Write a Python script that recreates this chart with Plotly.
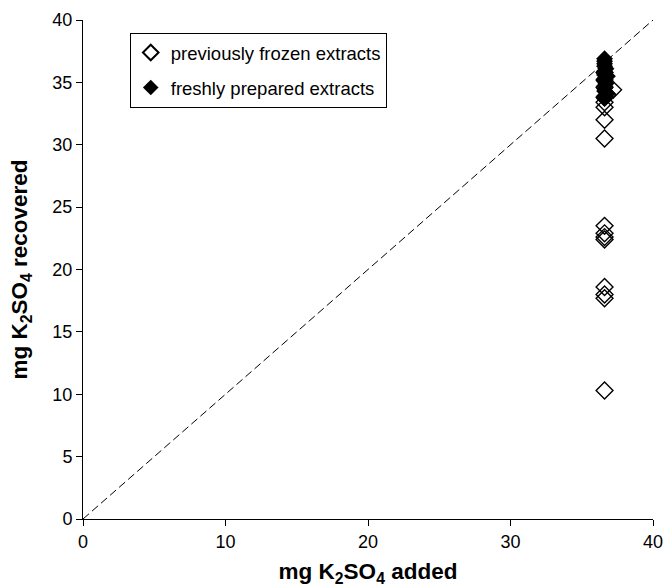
import plotly.graph_objects as go

frozen_x = [36.6, 36.6, 36.6, 36.6, 36.6, 36.6, 36.6, 36.6, 36.6, 36.6, 36.6, 36.6, 36.6, 37.2, 36.6, 36.6, 36.8, 36.6]
frozen_y = [10.3, 17.7, 18.0, 18.6, 22.4, 22.6, 22.9, 23.5, 30.5, 32.0, 33.0, 33.4, 33.8, 34.4, 34.6, 35.2, 34.0, 35.8]

fresh_x = [36.6, 36.6, 36.6, 36.6, 36.7, 36.6, 36.6, 36.8, 36.6, 36.6, 36.7, 36.6, 36.6, 36.6, 36.8, 36.6, 36.6, 36.6]
fresh_y = [36.9, 36.7, 36.5, 36.3, 36.1, 35.9, 35.7, 35.5, 35.3, 35.1, 34.9, 34.7, 34.5, 34.3, 34.1, 33.9, 33.7, 35.6]

line_x = [0, 40]
line_y = [0, 40]

fig = go.Figure()
fig.add_trace(go.Scatter(x=line_x, y=line_y, mode="lines",
                         line=dict(color="black", width=1, dash="8px,4px"),
                         showlegend=False, hoverinfo="skip"))
fig.add_trace(go.Scatter(x=frozen_x, y=frozen_y, mode="markers", name="previously frozen extracts",
                         legendgroup="a",
                         marker=dict(symbol="diamond-open", size=13, color="black", line=dict(width=1.4, color="black"))))
fig.add_trace(go.Scatter(x=fresh_x, y=fresh_y, mode="markers", name="freshly prepared extracts",
                         legendgroup="b",
                         marker=dict(symbol="diamond", size=13, color="black", line=dict(width=0))))

font = "Liberation Sans, Arial, sans-serif"
fig.update_layout(
    width=663, height=587,
    margin=dict(l=83, r=10, t=20, b=68),
    plot_bgcolor="white", paper_bgcolor="white",
    font=dict(family=font, size=18, color="black"),
    legend=dict(x=0.082, y=0.974, xanchor="left", yanchor="top",
                bordercolor="black", borderwidth=1, bgcolor="white",
                font=dict(size=18.5, family=font), itemsizing="constant",
                traceorder="grouped", tracegroupgap=8),
    xaxis=dict(range=[0, 40], tickvals=[0, 10, 20, 30, 40], showgrid=False, zeroline=False,
               showline=True, linecolor="black", linewidth=1, ticks="outside", ticklen=6,
               tickcolor="black", tickfont=dict(size=18), automargin=False, ticklabeloverflow="allow",
               title=dict(text="<b>mg K<sub>2</sub>SO<sub>4</sub> added</b>", font=dict(size=22.5), standoff=12)),
    yaxis=dict(range=[0, 40], tickvals=list(range(0, 41, 5)), showgrid=False, zeroline=False,
               showline=True, linecolor="black", linewidth=1, ticks="outside", ticklen=6,
               tickcolor="black", tickfont=dict(size=18), automargin=False, ticklabeloverflow="allow",
               title=dict(text="<b>mg K<sub>2</sub>SO<sub>4</sub> recovered</b>", font=dict(size=22.5), standoff=18)),
)
fig.write_html("out.html")
